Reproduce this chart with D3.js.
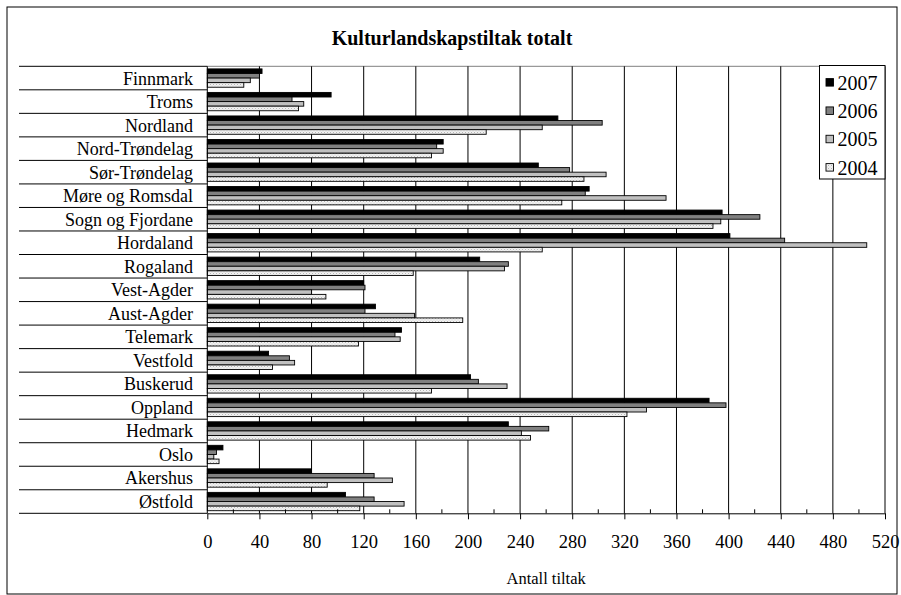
<!DOCTYPE html>
<html>
<head>
<meta charset="utf-8">
<script src="https://cdn.jsdelivr.net/npm/d3@7"></script>
<style>
  body { margin: 0; background: #fff; }
  svg { display: block; }
  text { font-family: "Liberation Serif", "Times New Roman", serif; fill: #000; }
</style>
</head>
<body>
<svg id="chart" width="901" height="595"></svg>
<script>
// Kulturlandskapstiltak per fylke, 2004–2007
const categories = ["Finnmark", "Troms", "Nordland", "Nord-Trøndelag", "Sør-Trøndelag",
  "Møre og Romsdal", "Sogn og Fjordane", "Hordaland", "Rogaland", "Vest-Agder",
  "Aust-Agder", "Telemark", "Vestfold", "Buskerud", "Oppland", "Hedmark", "Oslo",
  "Akershus", "Østfold"];
const years = ["2007", "2006", "2005", "2004"];
const values2007 = [42, 95, 269, 181, 254, 293, 395, 401, 209, 120, 129, 149, 47, 202, 385, 231, 12, 80, 106];
const values2006 = [40, 65, 303, 176, 278, 290, 424, 443, 231, 121, 121, 144, 63, 208, 398, 262, 7, 128, 128];
const values2005 = [33, 74, 257, 181, 306, 352, 394, 506, 228, 80, 159, 148, 67, 230, 337, 241, 5, 142, 151];
const values2004 = [28, 70, 214, 172, 289, 272, 388, 257, 158, 91, 196, 116, 50, 172, 322, 248, 9, 92, 117];
const xTicks = [0, 40, 80, 120, 160, 200, 240, 280, 320, 360, 400, 440, 480, 520];
const xMinorTicks = [20, 60, 100, 140, 180, 220, 260, 300, 340, 380, 420, 460, 500];
const title = "Kulturlandskapstiltak totalt";
const xTitle = "Antall tiltak";

const seriesValues = [values2007, values2006, values2005, values2004];

const svg = d3.select("#chart");

// plot frame
const plot = { left: 207.3, right: 885, top: 66.3, bottom: 513.3 };
const labelLineLeft = 19;

const x = d3.scaleLinear().domain([0, 520]).range([plot.left, plot.right]);
const y = d3.scaleBand().domain(categories).range([plot.top, plot.bottom]).padding(0);
const inner = d3.scaleBand().domain(years)
  .range([2.6, y.bandwidth() - 2.6]).padding(0);

// fills
const defs = svg.append("defs");
const pat = defs.append("pattern").attr("id", "dots")
  .attr("patternUnits", "userSpaceOnUse").attr("width", 3).attr("height", 3);
pat.append("rect").attr("width", 3).attr("height", 3).attr("fill", "#f2f2f2");
pat.append("rect").attr("x", 0).attr("y", 0).attr("width", 1).attr("height", 1).attr("fill", "#b8b8b8");
pat.append("rect").attr("x", 1.5).attr("y", 1.5).attr("width", 1).attr("height", 1).attr("fill", "#cfcfcf");

const fills = { "2007": "#000000", "2006": "#808080", "2005": "#c0c0c0", "2004": "url(#dots)" };

// chart area border
svg.append("rect").attr("x", 7).attr("y", 7).attr("width", 890).attr("height", 587)
  .attr("fill", "#fff").attr("stroke", "#000").attr("stroke-width", 1);

// title
svg.append("text").attr("x", 452).attr("y", 45).attr("text-anchor", "middle")
  .attr("font-size", 20).attr("font-weight", "bold").text(title);

// plot area top border
svg.append("line").attr("x1", plot.left).attr("x2", plot.right)
  .attr("y1", plot.top).attr("y2", plot.top).attr("stroke", "#808080");

// vertical gridlines
svg.append("g").selectAll("line").data(xTicks.slice(1)).join("line")
  .attr("x1", d => x(d)).attr("x2", d => x(d))
  .attr("y1", plot.top).attr("y2", plot.bottom)
  .attr("stroke", "#000").attr("stroke-width", 1);

// category separators across the label column
const bounds = categories.map(c => y(c)).concat([plot.bottom]);
svg.append("g").selectAll("line").data(bounds).join("line")
  .attr("x1", labelLineLeft).attr("x2", plot.left)
  .attr("y1", d => d).attr("y2", d => d)
  .attr("stroke", "#000").attr("stroke-width", 1);

// category labels
svg.append("g").selectAll("text").data(categories).join("text")
  .attr("x", 193).attr("y", d => y(d) + y.bandwidth() / 2)
  .attr("dy", "0.36em").attr("text-anchor", "end")
  .attr("font-size", 18).text(d => d);

// bars
const rows = [];
categories.forEach((c, i) => {
  years.forEach((yr, j) => rows.push({ cat: c, year: yr, value: seriesValues[j][i] }));
});
svg.append("g").selectAll("rect").data(rows).join("rect")
  .attr("x", x(0))
  .attr("y", d => y(d.cat) + inner(d.year))
  .attr("width", d => x(d.value) - x(0))
  .attr("height", inner.bandwidth())
  .attr("fill", d => fills[d.year])
  .attr("stroke", "#000").attr("stroke-width", 0.9);

// x axis with major ticks pointing down
const axis = svg.append("g").attr("transform", `translate(0,${plot.bottom})`)
  .call(d3.axisBottom(x).tickValues(xTicks).tickSize(6).tickSizeOuter(0).tickPadding(16));
axis.select(".domain").attr("stroke", "#000");
axis.selectAll(".tick line").attr("stroke", "#000");
axis.selectAll(".tick text").attr("font-size", 18.5)
  .attr("font-family", "Liberation Serif, Times New Roman, serif").attr("fill", "#000");

// minor ticks pointing up
svg.append("g").selectAll("line").data(xMinorTicks).join("line")
  .attr("x1", d => x(d)).attr("x2", d => x(d))
  .attr("y1", plot.bottom - 4).attr("y2", plot.bottom)
  .attr("stroke", "#000");

// y axis line
svg.append("line").attr("x1", plot.left).attr("x2", plot.left)
  .attr("y1", plot.top).attr("y2", plot.bottom).attr("stroke", "#000");

// axis title
svg.append("text").attr("x", (plot.left + plot.right) / 2).attr("y", 584)
  .attr("text-anchor", "middle").attr("font-size", 16.5).text(xTitle);

// legend
const lg = svg.append("g");
lg.append("rect").attr("x", 819.5).attr("y", 65.5).attr("width", 65.5).attr("height", 113.5)
  .attr("fill", "#fff").attr("stroke", "#000");
const legendRow = d3.scalePoint().domain(years).range([82.3, 167.3]);
lg.selectAll("rect.sw").data(years).join("rect").attr("class", "sw")
  .attr("x", 826).attr("y", d => legendRow(d) - 3.7).attr("width", 7.5).attr("height", 7.5)
  .attr("fill", d => fills[d]).attr("stroke", "#000").attr("stroke-width", 0.9);
lg.selectAll("text").data(years).join("text")
  .attr("x", 837.5).attr("y", d => legendRow(d)).attr("dy", "0.36em")
  .attr("font-size", 20).text(d => d);
</script>
</body>
</html>
